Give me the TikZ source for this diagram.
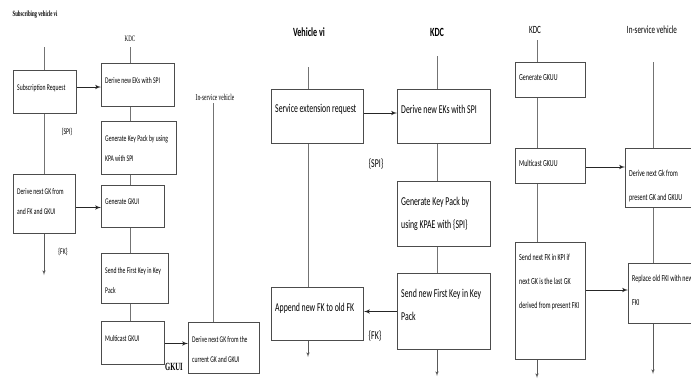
\documentclass[tikz,border=0pt]{standalone}
\usepackage{fontspec}
\setmainfont{Carlito}[FakeStretch=0.65]
\newfontfamily\hdserif{Liberation Serif}[FakeStretch=0.6]
\usetikzlibrary{arrows}
\usetikzlibrary{positioning}
\tikzset{
    kbox/.style={draw=black!70, line width=1pt, anchor=north west, inner sep=0pt},
    txtA/.style={anchor=north west, align=left, inner xsep=4pt, inner ysep=14pt,
    font=\fontsize{8.7}{20}\selectfont},
    txtB/.style={anchor=north west, align=left, inner xsep=4pt, inner ysep=15.5pt,
    font=\fontsize{12}{23}\selectfont},
    txtC/.style={anchor=north west, align=left, inner xsep=4pt, inner ysep=12pt,
    font=\fontsize{9.2}{24}\selectfont},
    life/.style={black!55, line width=0.6pt},
    edge/.style = {->,> = latex',black!85,line width=1pt},
    dedge/.style = {->,> = latex',black!65,line width=0.6pt}
}
\begin{document}
\begin{tikzpicture}[x=1pt,y=-1pt]
\useasboundingbox (0,0) rectangle (691,381);
\clip (0,0) rectangle (691,381);

% first part
\node[font=\hdserif\bfseries\fontsize{8}{9}\selectfont] (h1) at (35,15) {Subscribing vehicle vi};
\node[font=\hdserif\fontsize{8.3}{9}\selectfont] (h2) at (130,39) {KDC};
\node[font=\hdserif\fontsize{9}{10}\selectfont] (h3) at (215,97) {In-service vehicle};

\node[kbox, minimum width=63pt, minimum height=43pt, label={[txtA]north west:Subscription Request}] (sub) at (13,70) {};
\node[kbox, minimum width=62pt, minimum height=59pt, label={[txtA]north west:Derive next GK from\\and FK and GKUI}] (dgk) at (13,174) {};
\node[kbox, minimum width=73pt, minimum height=43pt, label={[txtA]north west:Derive new EKs with SPI}] (b1) at (101,63) {};
\node[kbox, minimum width=75pt, minimum height=53pt, label={[txtA]north west:Generate Key Pack by using\\KPA with SPI}] (b2) at (101,121) {};
\node[kbox, minimum width=63pt, minimum height=42pt, label={[txtA]north west:Generate GKUI}] (b3) at (101,185) {};
\node[kbox, minimum width=67pt, minimum height=50pt, label={[txtA]north west:Send the First Key in Key\\Pack}] (b4) at (101,253) {};
\node[kbox, minimum width=63pt, minimum height=43pt, label={[txtA]north west:Multicast GKUI}] (b5) at (101,321) {};
\node[kbox, minimum width=71pt, minimum height=51pt, label={[txtA]north west:Derive next GK from the\\current GK and GKUI}] (b6) at (188,322) {};

\node[font=\fontsize{8.7}{10}\selectfont] (spi1) at (67,132) {\{SPI\}};
\node[font=\fontsize{8.7}{10}\selectfont] (fk1) at (63,252) {\{FK\}};
\node[font=\hdserif\bfseries\fontsize{11}{12}\selectfont] (gk) at (174,367) {GKUI};

\coordinate (t1) at (44,47);
\coordinate (t2) at (130,47);
\coordinate (t3) at (213,103);
\coordinate (o1) at (44,275);

\draw[life] (t1) -- (t1 |- sub.north);
\draw[life] (sub.south -| t1) -- (dgk.north -| t1);
\draw[life] (t2) -- (t2 |- b1.north);
\draw[life] (b1.south -| t2) -- (b2.north -| t2);
\draw[life] (b2.south -| t2) -- (b3.north -| t2);
\draw[life] (b3.south -| t2) -- (b4.north -| t2);
\draw[life] (b4.south -| t2) -- (b5.north -| t2);
\draw[life] (t3) -- (t3 |- b6.north);

\draw[edge] ([yshift=-17pt]sub.north east) -- ([yshift=-17pt]sub.north east -| b1.west);
\draw[edge] ([yshift=-33.5pt]dgk.north east) -- ([yshift=-33.5pt]dgk.north east -| b3.west);
\draw[edge] ([yshift=-22.5pt]b5.north east) -- ([yshift=-22.5pt]b5.north east -| b6.west);
\draw[dedge] (dgk.south -| o1) -- (o1);

% second part
\node[font=\bfseries\fontsize{12.5}{14}\selectfont] (h4) at (309,32) {Vehicle vi};
\node[font=\bfseries\fontsize{12.5}{14}\selectfont] (h5) at (437,32) {KDC};

\node[kbox, minimum width=92pt, minimum height=54pt, label={[txtB]north west:Service extension request}] (ser) at (271,89) {};
\node[kbox, minimum width=92pt, minimum height=53pt, label={[txtB]north west:Append new FK to old FK}] (app) at (271,287) {};
\node[kbox, minimum width=93pt, minimum height=54pt, label={[txtB]north west:Derive new EKs with SPI}] (dek) at (397,89) {};
\node[kbox, minimum width=93pt, minimum height=65pt, label={[txtB]north west:Generate Key Pack by\\using KPAE with \{SPI\}}] (kp) at (397,181) {};
\node[kbox, minimum width=93pt, minimum height=76pt, label={[txtB]north west:Send new First Key in Key\\Pack}] (snd) at (397,273) {};

\node[font=\fontsize{12}{14}\selectfont] (spi2) at (376,164) {\{SPI\}};
\node[font=\fontsize{12}{14}\selectfont] (fk2) at (375,336) {\{FK\}};

\coordinate (t4) at (308,67);
\coordinate (t5) at (437,56);
\coordinate (o2) at (308,357);
\coordinate (o3) at (437,376);

\draw[life] (t4) -- (t4 |- ser.north);
\draw[life] (ser.south -| t4) -- (app.north -| t4);
\draw[life] (t5) -- (t5 |- dek.north);
\draw[life] (dek.south -| t5) -- (kp.north -| t5);
\draw[life] (kp.south -| t5) -- (snd.north -| t5);

\draw[edge] ([yshift=-24pt]ser.north east) -- ([yshift=-24pt]ser.north east -| dek.west);
\draw[edge] ([yshift=-24.5pt]app.north east -| snd.west) -- ([yshift=-24.5pt]app.north east);
\draw[dedge] (app.south -| o2) -- (o2);
\draw[dedge] (snd.south -| o3) -- (o3);

% third part
\node[font=\fontsize{11}{12}\selectfont] (h6) at (535,30) {KDC};
\node[font=\fontsize{11}{12}\selectfont] (h7) at (652,30) {In-service vehicle};

\node[kbox, minimum width=70pt, minimum height=35pt, label={[txtC]north west:Generate GKUU}] (g3) at (515,62) {};
\node[kbox, minimum width=70pt, minimum height=35pt, label={[txtC]north west:Multicast GKUU}] (m3) at (515,148) {};
\node[kbox, minimum width=70pt, minimum height=117pt, label={[txtC]north west:Send next FK in KPI if\\next GK is the last GK\\derived from present FKI}] (sn3) at (515,242) {};
\node[kbox, minimum width=80pt, minimum height=59pt, label={[txtC,yshift=-10pt]north west:Derive next Gk from\\present GK and GKUU}] (d3) at (625,148) {};
\node[kbox, minimum width=80pt, minimum height=60pt, label={[txtC]north west:Replace old FKI with new\\FKI}] (r3) at (628,263) {};

\coordinate (t6) at (537,40);
\coordinate (t7) at (653,62);
\coordinate (o4) at (537,378);
\coordinate (o5) at (653,374);

\draw[life] (t6) -- (t6 |- g3.north);
\draw[life] (g3.south -| t6) -- (m3.north -| t6);
\draw[life] (m3.south -| t6) -- (sn3.north -| t6);
\draw[life] (t7) -- (t7 |- d3.north);
\draw[life] (d3.south -| t7) -- (r3.north -| t7);

\draw[edge] ([yshift=-19pt]m3.north east) -- ([yshift=-19pt]m3.north east -| d3.west);
\draw[edge] ([yshift=-48pt]sn3.north east) -- ([yshift=-48pt]sn3.north east -| r3.west);
\draw[dedge] (sn3.south -| o4) -- (o4);
\draw[dedge] (r3.south -| o5) -- (o5);
\end{tikzpicture}
\end{document}
